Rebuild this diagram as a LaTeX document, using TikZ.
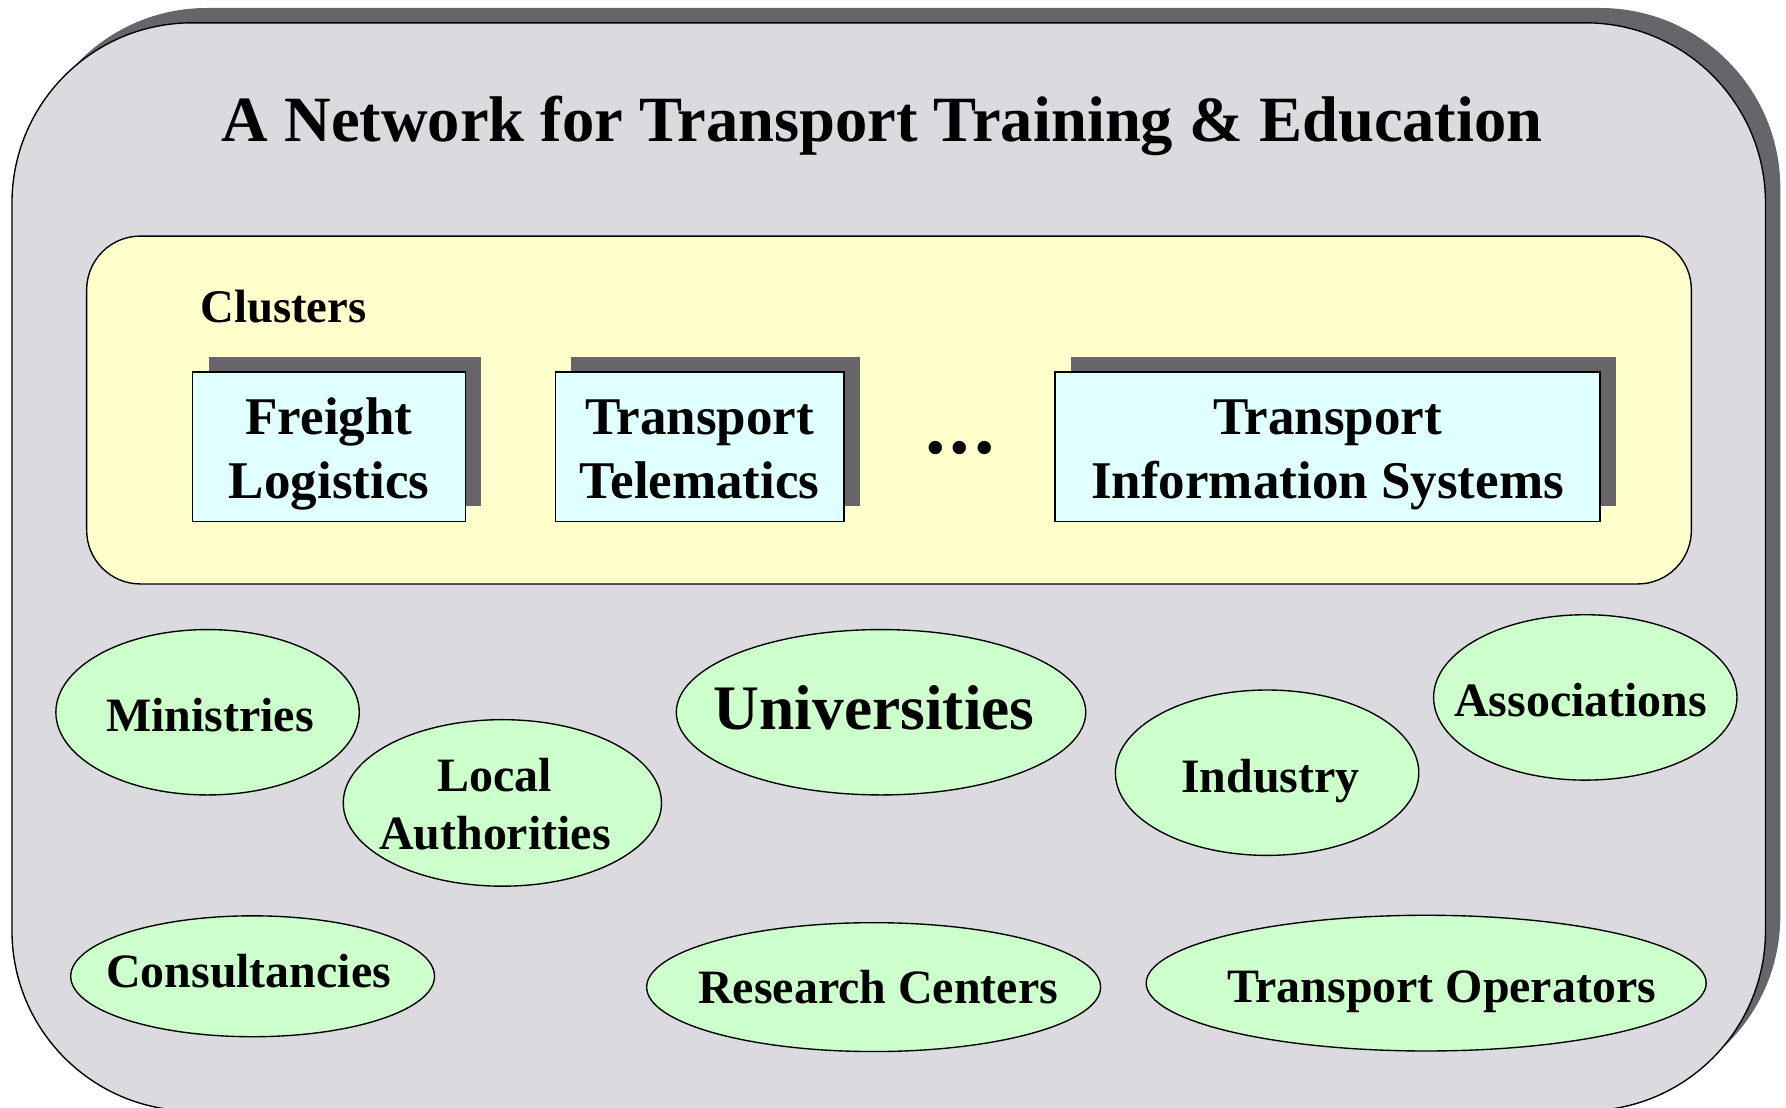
\documentclass[tikz,border=0pt]{standalone}
\usepackage{fontspec}
\setmainfont{Liberation Serif}
\usetikzlibrary{shapes.geometric,shadows}
\definecolor{panelgray}{RGB}{219,219,223}
\definecolor{shadowgray}{RGB}{103,100,106}
\definecolor{clusteryellow}{RGB}{255,255,204}
\definecolor{boxcyan}{RGB}{224,255,255}
\definecolor{blobgreen}{RGB}{204,255,204}
% struts keep both lines of every cluster box at the same height
\newcommand{\topstrut}{\rule{0pt}{23pt}}
\newcommand{\botstrut}{\rule[-5.5pt]{0pt}{5.5pt}}
\tikzset{
    clusterbox/.style={draw, fill=boxcyan, align=center, inner sep=0pt,
      minimum height=65.5pt, font=\fontsize{23.25}{28}\selectfont\bfseries,
      drop shadow={shadow xshift=7pt, shadow yshift=6.5pt, fill=shadowgray, opacity=1}},
    blob/.style={draw, fill=blobgreen, ellipse, inner sep=0pt},
    blobtext/.style={inner sep=0pt, align=center, font=\fontsize{21}{25.5}\selectfont\bfseries}
}

\begin{document}
\begin{tikzpicture}[x=0.5pt,y=-0.5pt,line width=0.6pt]
    \useasboundingbox (0,0) rectangle (1566,971.5);
    % outer panel with its shadow
    \fill[shadowgray, rounded corners=79pt] (23.5,7) rectangle (1561,961);
    \draw[fill=panelgray, rounded corners=79pt] (10.5,20) rectangle (1548,974);
    \node[anchor=base, inner sep=0pt, font=\fontsize{28.3}{34}\selectfont\bfseries] (title)
      at (773.5,124) {A Network for Transport Training \& Education};
    % clusters
    \draw[fill=clusteryellow, rounded corners=23.5pt] (76,207) rectangle (1483,512);
    \node[anchor=base west, inner sep=0pt, font=\fontsize{20.5}{24}\selectfont\bfseries] (clusters)
      at (175,283) {Clusters};
    \node[clusterbox, minimum width=119.5pt] (freight) at (288.5,391.5)
      {\topstrut Freight\\Logistics\botstrut};
    \node[clusterbox, minimum width=126.5pt] (telem) at (613.5,391.5)
      {\topstrut Transport\\Telematics\botstrut};
    \node[inner sep=0pt, font=\fontsize{36}{40}\selectfont\bfseries] (dots)
      at (842,393) {.\kern1.9pt.\kern1.9pt.};
    \node[clusterbox, minimum width=239pt] (tis) at (1164,391.5)
      {\topstrut Transport\\Information Systems\botstrut};
    % stakeholders
    \foreach \nm/\cx/\cy/\rx/\ry/\tx/\ty/\txt in {
      min/182/624.5/133/72.5/184/641/Ministries,
      ind/1111/677.5/133/72.5/1114/695/Industry,
      ass/1390/611.5/133/72.5/1386/628/Associations,
      con/221.5/856/159.5/53/218/866/Consultancies,
      res/766/865.5/199/56.5/770/880/Research Centers,
      ops/1250.5/862/245.5/59.5/1264/879/Transport Operators} {
      \node[blob, minimum width={\rx*1pt}, minimum height={\ry*1pt}] (\nm) at (\cx,\cy) {};
      \node[blobtext, anchor=base] (\nm-txt) at (\tx,\ty) {\txt};
    }
    \node[blob, minimum width=139.5pt, minimum height=73pt] (loc) at (440.5,704) {};
    \node[blobtext] (loc-txt) at (434,705) {Local\\Authorities};
    \node[blob, minimum width=179.5pt, minimum height=72.5pt] (uni) at (772.5,624.5) {};
    \node[blobtext, anchor=base, font=\fontsize{27.8}{32}\selectfont\bfseries] (uni-txt)
      at (766.5,640) {Universities};
\end{tikzpicture}
\end{document}
